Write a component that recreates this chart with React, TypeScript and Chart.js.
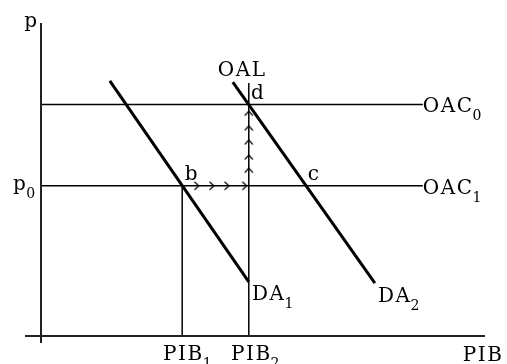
import React, { useEffect, useRef } from "react";
import { Chart, registerables } from "chart.js";

Chart.register(...registerables);

// Data (abstract units: x = PIB, y = price level)
const axisXLine = [{ x: -0.36, y: 0 }, { x: 10, y: 0 }];
const axisYLine = [{ x: 0, y: -0.22 }, { x: 0, y: 10 }];
const priceLevels = [7.4, 4.8]; // OAC0, OAC1
const oacEndX = 8.6;
const pibValues = [3.18, 4.68]; // PIB1, PIB2
const oalTop = 8.08;
const da1 = [{ x: 1.55, y: 8.15 }, { x: 4.68, y: 1.73 }];
const da2 = [{ x: 4.32, y: 8.11 }, { x: 7.52, y: 1.69 }];
const rightArrowsX = [3.51, 3.85, 4.19, 4.59];
const upArrowsY = [7.12, 6.65, 6.2, 5.72, 5.3];

const labelTexts = ["p", "p", "OAL", "d", "b", "c", "OAC", "OAC", "DA", "DA", "PIB", "PIB", "PIB"];
const labelSubs = ["", "0", "", "", "", "", "0", "1", "1", "2", "1", "2", ""];
const labelX = [-0.38, -0.63, 4.53, 4.73, 3.24, 6.01, 8.6, 8.6, 4.75, 7.59, 2.75, 4.28, 9.5];
const labelY = [9.87, 4.66, 8.31, 7.57, 4.98, 4.98, 7.16, 4.54, 1.15, 1.09, -0.77, -0.77, -0.8];
const labelAlign = ["left", "left", "center", "left", "left", "left", "left", "left", "left", "left", "left", "left", "left"];

const FONT = '"DejaVu Serif", serif';
const MAIN_SIZE = 20;
const SUB_SIZE = 14;

function makeChevron(): HTMLCanvasElement {
  const c = document.createElement("canvas");
  c.width = 10;
  c.height = 10;
  const ctx = c.getContext("2d")!;
  ctx.strokeStyle = "#000";
  ctx.lineWidth = 1.2;
  ctx.beginPath();
  ctx.moveTo(2.5, 1);
  ctx.lineTo(7, 5);
  ctx.lineTo(2.5, 9);
  ctx.stroke();
  return c;
}

const labelPlugin = {
  id: "labels",
  afterDatasetsDraw(chart: any) {
    const { ctx, scales } = chart;
    ctx.save();
    ctx.fillStyle = "#000";
    ctx.textBaseline = "alphabetic";
    ctx.textAlign = "left";
    for (let i = 0; i < labelTexts.length; i++) {
      const px = scales.x.getPixelForValue(labelX[i]);
      const py = scales.y.getPixelForValue(labelY[i]);
      ctx.font = `${MAIN_SIZE}px ${FONT}`;
      (ctx as any).letterSpacing = "1.5px";
      const w = ctx.measureText(labelTexts[i]).width;
      ctx.font = `${SUB_SIZE}px ${FONT}`;
      const ws = labelSubs[i] ? ctx.measureText(labelSubs[i]).width : 0;
      let x0 = px;
      if (labelAlign[i] === "center") x0 = px - (w + ws) / 2;
      ctx.font = `${MAIN_SIZE}px ${FONT}`;
      ctx.fillText(labelTexts[i], x0, py);
      if (labelSubs[i]) {
        ctx.font = `${SUB_SIZE}px ${FONT}`;
        ctx.fillText(labelSubs[i], x0 + w - 1, py + 8);
      }
    }
    ctx.restore();
  },
};

function seg(data: { x: number; y: number }[], width: number, color = "#000") {
  return {
    type: "line" as const,
    data,
    showLine: true,
    borderColor: color,
    borderWidth: width,
    pointRadius: 0,
    fill: false,
    clip: false as any,
  };
}

export default function App() {
  const ref = useRef<HTMLCanvasElement>(null);
  useEffect(() => {
    if (!ref.current) return;
    const chev = makeChevron();
    const datasets: any[] = [
      seg(axisXLine, 2, "#222"),
      seg(axisYLine, 2, "#222"),
      ...priceLevels.map((p) => seg([{ x: 0, y: p }, { x: oacEndX, y: p }], 1.5)),
      seg([{ x: pibValues[0], y: 0 }, { x: pibValues[0], y: priceLevels[1] }], 1.5),
      seg([{ x: pibValues[1], y: 0 }, { x: pibValues[1], y: oalTop }], 1.5),
      seg(da1, 3),
      seg(da2, 3),
      {
        type: "scatter",
        data: rightArrowsX.map((x) => ({ x, y: priceLevels[1] })),
        pointStyle: chev,
        pointRotation: 0,
        showLine: false,
        clip: false,
      },
      {
        type: "scatter",
        data: upArrowsY.map((y) => ({ x: pibValues[1], y })),
        pointStyle: chev,
        pointRotation: -90,
        showLine: false,
        clip: false,
      },
    ];
    const chart = new Chart(ref.current, {
      type: "scatter",
      data: { datasets },
      options: {
        animation: false,
        responsive: false,
        maintainAspectRatio: false,
        layout: { padding: { left: 41, right: 22, top: 23, bottom: 28 } },
        plugins: { legend: { display: false }, tooltip: { enabled: false } },
        events: [],
        scales: {
          x: { type: "linear", min: 0, max: 10, display: false },
          y: { type: "linear", min: 0, max: 10, display: false },
        },
      },
      plugins: [labelPlugin],
    });
    return () => chart.destroy();
  }, []);
  return (
    <div style={{ position: "absolute", left: 0, top: 0, width: 507, height: 364, background: "#fff" }}>
      <canvas ref={ref} width={507} height={364} style={{ display: "block", width: 507, height: 364 }} />
    </div>
  );
}
